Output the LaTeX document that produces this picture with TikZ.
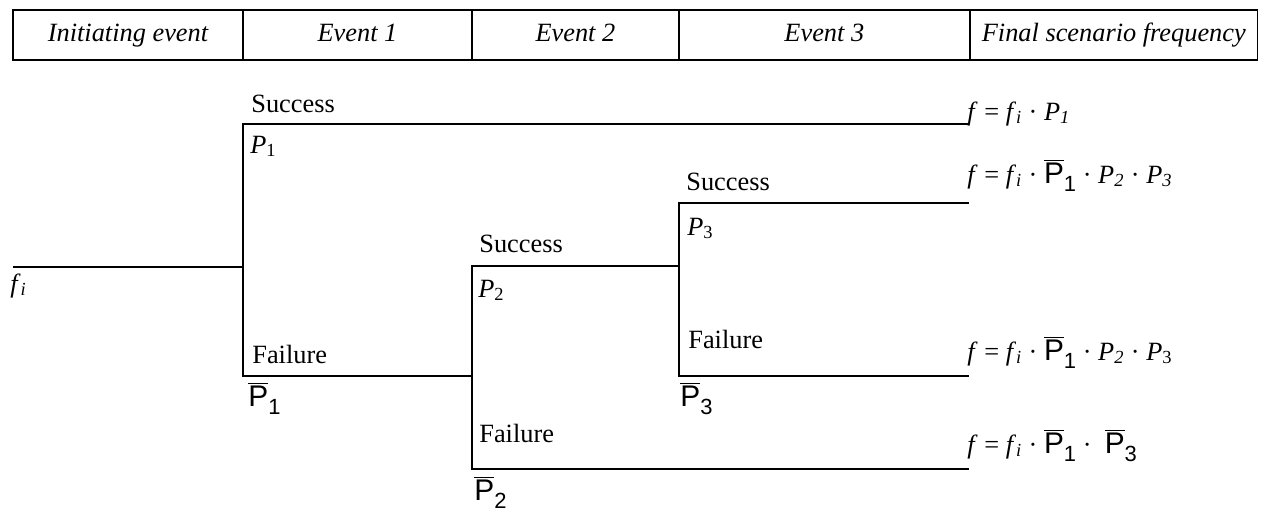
\documentclass[tikz,border=0pt]{standalone}
\usepackage{fontspec}
\setmainfont{Liberation Serif}
\setsansfont{Liberation Sans}
\usetikzlibrary{positioning, calc}

\newcommand{\pbar}[1]{{\fontsize{17}{20}\selectfont\sffamily$\overline{\mbox{P}}$\raisebox{-0.3em}{\fontsize{12.5}{14}\selectfont #1}}}
\newcommand{\pit}[1]{\textit{P}\textsubscript{#1}}
\newcommand{\fsub}{\textit{f}\textsubscript{\textit{i}}}

\begin{document}
\begin{tikzpicture}[
        x=0.02cm, y=-0.02cm,
        font=\fontsize{15}{18}\selectfont,
        hdr/.style={rectangle, draw, line width=0.8pt, outer sep=0pt, minimum height=1cm, text height=10.5pt, text depth=3.5pt, font=\fontsize{15}{18}\selectfont\itshape, align=center},
        lbl/.style={anchor=base west, inner sep=0pt},
        branch/.style={line width=0.8pt}
    ]
    \useasboundingbox (0,0) rectangle (1265,508);

        % 1. Header row
        \node (hinit) [hdr, minimum width=4.6cm] at (128,35) {Initiating event};
        \node (hev1) [hdr, minimum width=4.58cm, right=0cm of hinit] {Event 1};
        \node (hev2) [hdr, minimum width=4.14cm, right=0cm of hev1] {Event 2};
        \node (hev3) [hdr, minimum width=5.82cm, right=0cm of hev2] {Event 3};
        \node (hfreq) [hdr, minimum width=5.76cm, right=0cm of hev3] {Final scenario frequency};

        % 2. Branch points
        \coordinate (root) at (13,267);
        \coordinate (j1) at (243,267);
        \coordinate (s1) at (243,124);
        \coordinate (f1) at (243,376);
        \coordinate (e1) at (969,124);
        \coordinate (j2) at (472,376);
        \coordinate (s2) at (472,266);
        \coordinate (f2) at (472,469);
        \coordinate (e4) at (969,469);
        \coordinate (j3) at (679,266);
        \coordinate (s3) at (679,203);
        \coordinate (f3) at (679,376);
        \coordinate (e2) at (969,203);
        \coordinate (e3) at (969,376);

        % 3. Tree
        \draw [branch] (root) -- (j1);
        \draw [branch] (e1) -- (s1) -- (f1) -- (j2);
        \draw [branch] (j3) -- (s2) -- (f2) -- (e4);
        \draw [branch] (e2) -- (s3) -- (f3) -- (e3);

        % 4. Branch labels
        \node (fi) [lbl] at ($(root)+(-3,25)$) {\fsub};
        \node (succ1) [lbl] at ($(s1)+(8,-12)$) {Success};
        \node (p1) [lbl] at ($(s1)+(7,29)$) {\pit{1}};
        \node (fail1) [lbl] at ($(f1)+(9,-13)$) {Failure};
        \node (pb1) [lbl] at ($(f1)+(5,30)$) {\pbar{1}};
        \node (succ2) [lbl] at ($(s2)+(7,-14)$) {Success};
        \node (p2) [lbl] at ($(s2)+(6,31)$) {\pit{2}};
        \node (fail2) [lbl] at ($(f2)+(7,-27)$) {Failure};
        \node (pb2) [lbl] at ($(f2)+(2,31)$) {\pbar{2}};
        \node (succ3) [lbl] at ($(s3)+(7,-13)$) {Success};
        \node (p3) [lbl] at ($(s3)+(8,32)$) {\pit{3}};
        \node (fail3) [lbl] at ($(f3)+(9,-28)$) {Failure};
        \node (pb3) [lbl] at ($(f3)+(1,30)$) {\pbar{3}};

        % 5. Final frequencies
        \node (freq1) [lbl] at ($(e1)+(-2,-4)$) {\textit{f} = \fsub{} · \textit{P}\textsubscript{\textit{1}}};
        \node (freq2) [lbl] at ($(e2)+(-2,-20)$) {\textit{f} = \fsub{} · \pbar{1}\ · \textit{P}\textsubscript{\textit{2}} · \textit{P}\textsubscript{\textit{3}}};
        \node (freq3) [lbl] at ($(e3)+(-2,-16)$) {\textit{f} = \fsub{} · \pbar{1}\ · \textit{P}\textsubscript{\textit{2}} ·\ \pit{3}};
        \node (freq4) [lbl] at ($(e4)+(-2,-16)$) {\textit{f} = \fsub{} · \pbar{1}\ ·\ \ \pbar{3}};

    \end{tikzpicture}
\end{document}
